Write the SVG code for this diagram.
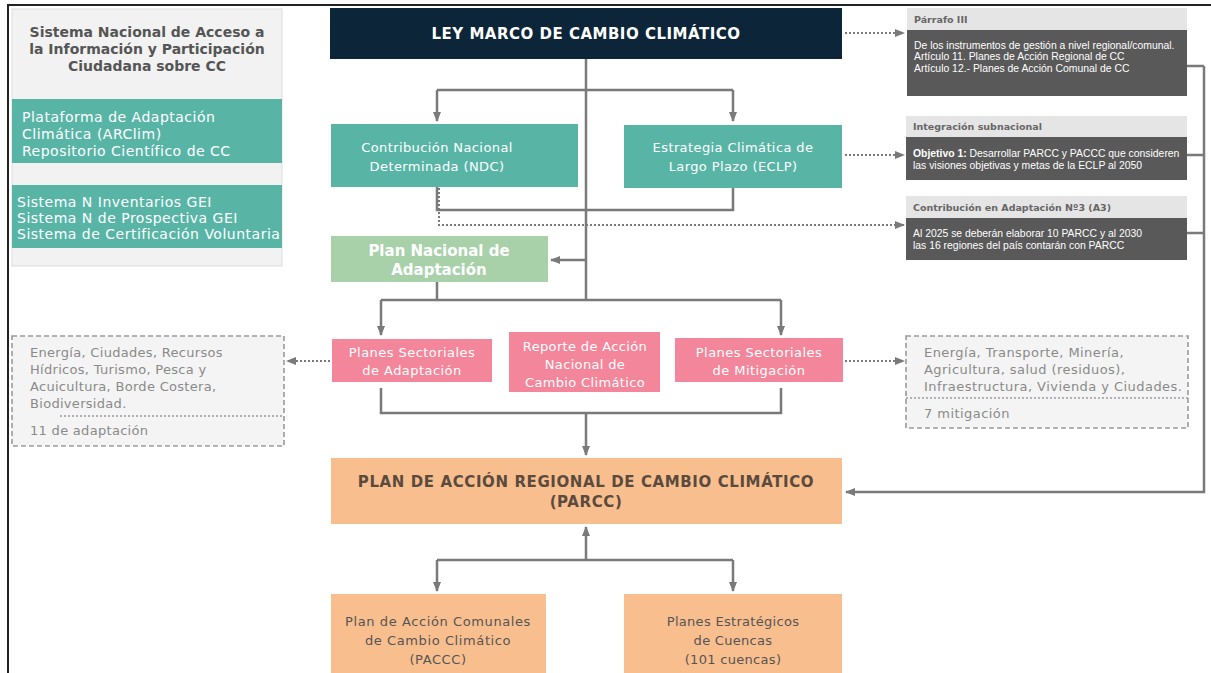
<svg xmlns="http://www.w3.org/2000/svg" width="1211" height="673" viewBox="0 0 1211 673">
<style>
.v{font-family:"DejaVu Sans",Verdana,sans-serif}
.w{fill:#ffffff}
.c{text-anchor:middle}
.teal{fill:#58b5a6}
.pink{fill:#f4869b}
.orange{fill:#f9be8e}
.ln{fill:none;stroke:#7a7a7a;stroke-width:2.5}
.dot{fill:none;stroke:#7a7a7a;stroke-width:2;stroke-dasharray:2 2}
.hdr{fill:#e5e5e5}
.body{fill:#595959}
.sm{font-family:"Liberation Sans",Arial,sans-serif;font-size:10.4px;fill:#ffffff}
.hd{font-family:"DejaVu Sans",Verdana,sans-serif;font-size:9.5px;font-weight:bold;fill:#666}
.gr{font-family:"DejaVu Sans",Verdana,sans-serif;font-size:13px;fill:#8a8a8a}
.dbox{fill:#f4f4f4;stroke:#9a9a9a;stroke-width:1.6;stroke-dasharray:5 3}
</style>
<defs>
<marker id="ah" viewBox="0 0 10 10" refX="9" refY="5" markerWidth="4" markerHeight="4" orient="auto" markerUnits="strokeWidth"><path d="M0,1 L10,5 L0,9 Z" fill="#7a7a7a"/></marker>
<marker id="ahd" viewBox="0 0 10 10" refX="9" refY="5" markerWidth="5" markerHeight="5" orient="auto" markerUnits="strokeWidth"><path d="M0,1 L10,5 L0,9 Z" fill="#7a7a7a"/></marker>
</defs>
<rect width="1211" height="673" fill="#ffffff"/>
<g id="frame"><path d="M8,673 V5 H1211" fill="none" stroke="#222" stroke-width="2"/></g>

<g id="connectors">
<path class="ln" d="M586,59 V300"/>
<path class="ln" d="M437,90 H733"/>
<path class="ln" d="M437,90 V121" marker-end="url(#ah)"/>
<path class="ln" d="M733,90 V121" marker-end="url(#ah)"/>
<path class="ln" d="M437,187 V210 H733 V188"/>
<path class="ln" d="M586,260 H551" marker-end="url(#ah)"/>
<path class="ln" d="M437,282 V300"/>
<path class="ln" d="M381,300 H781"/>
<path class="ln" d="M381,300 V335" marker-end="url(#ah)"/>
<path class="ln" d="M781,300 V335" marker-end="url(#ah)"/>
<path class="ln" d="M381,388 V413 H781 V388"/>
<path class="ln" d="M586,413 V455" marker-end="url(#ah)"/>
<path class="ln" d="M586,560 V527" marker-end="url(#ah)"/>
<path class="ln" d="M437,560 H733"/>
<path class="ln" d="M437,560 V591" marker-end="url(#ah)"/>
<path class="ln" d="M733,560 V591" marker-end="url(#ah)"/>
<path class="ln" d="M1187,66 H1204 M1187,155 H1204 M1187,233 H1204"/>
<path class="ln" d="M1204,66 V492 H846" marker-end="url(#ah)"/>
<path class="dot" d="M845,33 H904" marker-end="url(#ahd)"/>
<path class="dot" d="M845,155 H904" marker-end="url(#ahd)"/>
<path class="dot" d="M439,188 V225 H904" marker-end="url(#ahd)"/>
<path class="dot" d="M330,361 H287" marker-end="url(#ahd)"/>
<path class="dot" d="M845,361 H904" marker-end="url(#ahd)"/>
</g>

<g id="sistema-nacional">
<rect x="12" y="9" width="270" height="257" fill="#f2f2f2" stroke="#dddddd" stroke-width="1"/>
<text class="v c" x="147" font-size="14" font-weight="bold" fill="#555"><tspan x="147" y="37">Sistema Nacional de Acceso a</tspan><tspan x="147" y="54">la Información y Participación</tspan><tspan x="147" y="71">Ciudadana sobre CC</tspan></text>
<rect class="teal" x="12" y="99" width="270" height="64"/>
<text class="v w" font-size="14" letter-spacing="0.5"><tspan x="22" y="122">Plataforma de Adaptación</tspan><tspan x="22" y="139">Climática (ARClim)</tspan><tspan x="22" y="156">Repositorio Científico de CC</tspan></text>
<rect class="teal" x="12" y="185" width="270" height="63"/>
<text class="v w" font-size="14" letter-spacing="0.5"><tspan x="17" y="207">Sistema N Inventarios GEI</tspan><tspan x="17" y="223">Sistema N de Prospectiva GEI</tspan><tspan x="17" y="239">Sistema de Certificación Voluntaria</tspan></text>
</g>

<g id="ley-marco">
<rect x="330" y="8" width="512" height="51" fill="#0c2538"/>
<text class="v c w" x="586" y="39" font-size="15" font-weight="bold" letter-spacing="0.5">LEY MARCO DE CAMBIO CLIMÁTICO</text>
</g>

<g id="ndc">
<rect class="teal" x="331" y="124" width="247" height="63"/>
<text class="v c w" font-size="13" letter-spacing="0.4"><tspan x="437" y="152">Contribución Nacional</tspan><tspan x="437" y="171">Determinada (NDC)</tspan></text>
</g>

<g id="eclp">
<rect class="teal" x="624" y="125" width="218" height="63"/>
<text class="v c w" font-size="13" letter-spacing="0.4"><tspan x="733" y="152">Estrategia Climática de</tspan><tspan x="733" y="171">Largo Plazo (ECLP)</tspan></text>
</g>

<g id="pna">
<rect x="331" y="236" width="217" height="46" fill="#a8d1aa"/>
<text class="v c w" font-size="15" font-weight="bold"><tspan x="439" y="256">Plan Nacional de</tspan><tspan x="439" y="275">Adaptación</tspan></text>
</g>

<g id="ps-adaptacion">
<rect class="pink" x="332" y="339" width="160" height="43"/>
<text class="v c w" font-size="13" letter-spacing="0.45"><tspan x="412" y="357">Planes Sectoriales</tspan><tspan x="412" y="375">de Adaptación</tspan></text>
</g>

<g id="reporte">
<rect class="pink" x="509" y="332" width="151" height="60"/>
<text class="v c w" font-size="13" letter-spacing="0.35"><tspan x="585" y="351">Reporte de Acción</tspan><tspan x="585" y="369">Nacional de</tspan><tspan x="585" y="387">Cambio Climático</tspan></text>
</g>

<g id="ps-mitigacion">
<rect class="pink" x="675" y="338" width="168" height="44"/>
<text class="v c w" font-size="13" letter-spacing="0.45"><tspan x="759" y="357">Planes Sectoriales</tspan><tspan x="759" y="375">de Mitigación</tspan></text>
</g>

<g id="sectores-adaptacion">
<rect class="dbox" x="12" y="336" width="272" height="110"/>
<text class="gr" letter-spacing="0.3"><tspan x="30" y="357">Energía, Ciudades, Recursos</tspan><tspan x="30" y="374">Hídricos, Turismo, Pesca y</tspan><tspan x="30" y="391">Acuicultura, Borde Costera,</tspan><tspan x="30" y="408">Biodiversidad.</tspan></text>
<path d="M60,416 H284" stroke="#9a9a9a" stroke-width="1.5" stroke-dasharray="2 2"/>
<text class="gr" x="30" y="435" letter-spacing="0.3">11 de adaptación</text>
</g>

<g id="sectores-mitigacion">
<rect class="dbox" x="906" y="336" width="282" height="92"/>
<text class="gr" letter-spacing="0.45"><tspan x="924" y="357">Energía, Transporte, Minería,</tspan><tspan x="924" y="374">Agricultura, salud (residuos),</tspan><tspan x="924" y="391">Infraestructura, Vivienda y Ciudades.</tspan></text>
<path d="M906,398 H1188" stroke="#9a9a9a" stroke-width="1.5" stroke-dasharray="2 2"/>
<text class="gr" x="924" y="418" letter-spacing="0.45">7 mitigación</text>
</g>

<g id="parcc">
<rect class="orange" x="331" y="458" width="511" height="66"/>
<text class="v c" font-size="15" font-weight="bold" fill="#5b4b3e" letter-spacing="0.6"><tspan x="586" y="487">PLAN DE ACCIÓN REGIONAL DE CAMBIO CLIMÁTICO</tspan><tspan x="586" y="507">(PARCC)</tspan></text>
</g>

<g id="paccc">
<rect class="orange" x="331" y="594" width="215" height="79"/>
<text class="v c" font-size="13" fill="#555" letter-spacing="0.6"><tspan x="438" y="626">Plan de Acción Comunales</tspan><tspan x="438" y="645">de Cambio Climático</tspan><tspan x="438" y="664">(PACCC)</tspan></text>
</g>

<g id="cuencas">
<rect class="orange" x="624" y="594" width="218" height="79"/>
<text class="v c" font-size="13" fill="#555" letter-spacing="0.3"><tspan x="733" y="626">Planes Estratégicos</tspan><tspan x="733" y="645">de Cuencas</tspan><tspan x="733" y="664">(101 cuencas)</tspan></text>
</g>

<g id="parrafo-iii">
<rect class="hdr" x="907" y="8" width="280" height="22"/>
<text class="hd" x="914" y="23">Párrafo III</text>
<rect class="body" x="907" y="30" width="280" height="66"/>
<text class="sm"><tspan x="914" y="49">De los instrumentos de gestión a nivel regional/comunal.</tspan><tspan x="914" y="60">Artículo 11. Planes de Acción Regional de CC</tspan><tspan x="914" y="72">Artículo 12.- Planes de Acción Comunal de CC</tspan></text>
</g>

<g id="integracion">
<rect class="hdr" x="906" y="116" width="281" height="21"/>
<text class="hd" x="913" y="130">Integración subnacional</text>
<rect class="body" x="906" y="137" width="281" height="43"/>
<text class="sm"><tspan x="913" y="157"><tspan font-weight="bold">Objetivo 1:</tspan> Desarrollar PARCC y PACCC que consideren</tspan><tspan x="913" y="169">las visiones objetivas y metas de la ECLP al 2050</tspan></text>
</g>

<g id="contribucion-a3">
<rect class="hdr" x="906" y="196" width="281" height="22"/>
<text class="hd" x="913" y="211">Contribución en Adaptación Nº3 (A3)</text>
<rect class="body" x="906" y="218" width="281" height="42"/>
<text class="sm"><tspan x="913" y="237">Al 2025 se deberán elaborar 10 PARCC y al 2030</tspan><tspan x="913" y="249">las 16 regiones del país contarán con PARCC</tspan></text>
</g>
</svg>
